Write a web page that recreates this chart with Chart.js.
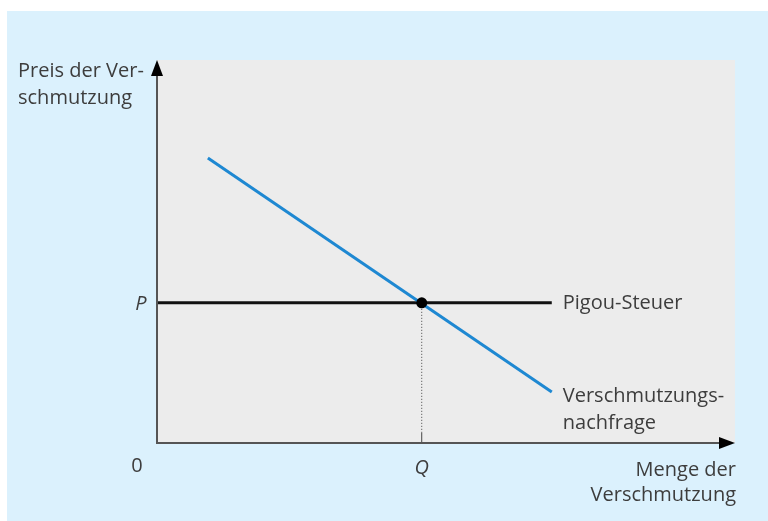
<!DOCTYPE html>
<html>
<head>
<meta charset="utf-8">
<script src="https://cdn.jsdelivr.net/npm/chart.js@4.4.0/dist/chart.umd.min.js"></script>
<style>
  html, body { margin: 0; padding: 0; background: #fff; }
  #wrap { position: relative; width: 768px; height: 521px; }
  #bg { position: absolute; left: 7px; top: 11px; right: 0; bottom: 0; background: #dbf1fd; }
  #c { position: absolute; left: 0; top: 0; }
</style>
</head>
<body>
<div id="wrap">
  <div id="bg"></div>
  <canvas id="c" width="768" height="521"></canvas>
</div>
<script>
// data in abstract units (x: quantity, y: price)
const demandX = [0.88, 6.83];
const demandY = [7.44, 1.33];
const taxX = [0, 6.83];
const taxY = [3.66, 3.66];
const eqX = 4.58;
const eqY = 3.66;
const xMax = 10;
const yMax = 10;

const font = '"Open Sans", "Noto Sans", sans-serif';
const textColor = '#3d3d3d';

const decor = {
  id: 'decor',
  beforeDraw(chart) {
    const { ctx, chartArea: a } = chart;
    ctx.save();
    ctx.fillStyle = '#ececec';
    ctx.fillRect(a.left, a.top, a.right - a.left, a.bottom - a.top);
    ctx.restore();
  },
  afterDatasetsDraw(chart) {
    const { ctx, chartArea: a, scales } = chart;
    const x = scales.x, y = scales.y;
    const px = x.getPixelForValue(eqX);
    const py = y.getPixelForValue(eqY);
    ctx.save();
    // dotted drop line
    ctx.strokeStyle = '#444';
    ctx.lineWidth = 1;
    ctx.setLineDash([1, 2]);
    ctx.beginPath();
    ctx.moveTo(px, py);
    ctx.lineTo(px, a.bottom - 10);
    ctx.stroke();
    ctx.setLineDash([]);
    ctx.beginPath();
    ctx.moveTo(px, a.bottom - 10);
    ctx.lineTo(px, a.bottom);
    ctx.stroke();

    // axes
    ctx.strokeStyle = '#555';
    ctx.lineWidth = 2;
    ctx.beginPath();
    ctx.moveTo(a.left, a.top + 10);
    ctx.lineTo(a.left, a.bottom);
    ctx.lineTo(a.right - 12, a.bottom);
    ctx.stroke();
    ctx.fillStyle = '#000';
    ctx.beginPath();
    ctx.moveTo(a.left, a.top);
    ctx.lineTo(a.left - 6, a.top + 16);
    ctx.lineTo(a.left + 6, a.top + 16);
    ctx.closePath();
    ctx.fill();
    ctx.beginPath();
    ctx.moveTo(a.right, a.bottom);
    ctx.lineTo(a.right - 16, a.bottom - 6);
    ctx.lineTo(a.right - 16, a.bottom + 6);
    ctx.closePath();
    ctx.fill();

    // point
    ctx.beginPath();
    ctx.arc(px, py, 5.5, 0, Math.PI * 2);
    ctx.fillStyle = '#000';
    ctx.fill();

    // texts
    ctx.fillStyle = textColor;
    ctx.font = '20px ' + font;
    ctx.textBaseline = 'middle';
    ctx.textAlign = 'left';
    ctx.fillText('Preis der Ver-', 18, 71);
    ctx.fillText('schmutzung', 18, 98);
    const endX = x.getPixelForValue(taxX[1]);
    ctx.fillText('Pigou-Steuer', endX + 11, y.getPixelForValue(taxY[1]));
    const dEnd = y.getPixelForValue(demandY[1]);
    ctx.fillText('Verschmutzungs-', endX + 11, dEnd + 4);
    ctx.fillText('nachfrage', endX + 11, dEnd + 31);
    ctx.textAlign = 'right';
    ctx.fillText('Menge der', a.right + 1, a.bottom + 27);
    ctx.fillText('Verschmutzung', a.right + 1, a.bottom + 52);
    ctx.textAlign = 'center';
    ctx.fillText('0', a.left - 20, a.bottom + 23);
    ctx.font = 'italic 20px ' + font;
    ctx.fillText('P', a.left - 16, py + 1);
    ctx.fillText('Q', px, a.bottom + 25);
    ctx.restore();
  }
};

new Chart(document.getElementById('c'), {
  type: 'scatter',
  data: {
    datasets: [
      {
        label: 'Verschmutzungsnachfrage',
        data: demandX.map((v, i) => ({ x: v, y: demandY[i] })),
        showLine: true,
        borderColor: '#1e88d2',
        borderWidth: 3,
        pointRadius: 0
      },
      {
        label: 'Pigou-Steuer',
        data: taxX.map((v, i) => ({ x: v, y: taxY[i] })),
        showLine: true,
        borderColor: '#111',
        borderWidth: 3,
        pointRadius: 0
      }
    ]
  },
  plugins: [decor],
  options: {
    responsive: false,
    animation: false,
    layout: { padding: { left: 157, top: 60, right: 33, bottom: 78 } },
    plugins: { legend: { display: false }, tooltip: { enabled: false } },
    scales: {
      x: { type: 'linear', min: 0, max: xMax, display: false },
      y: { type: 'linear', min: 0, max: yMax, display: false }
    }
  }
});
</script>
</body>
</html>
